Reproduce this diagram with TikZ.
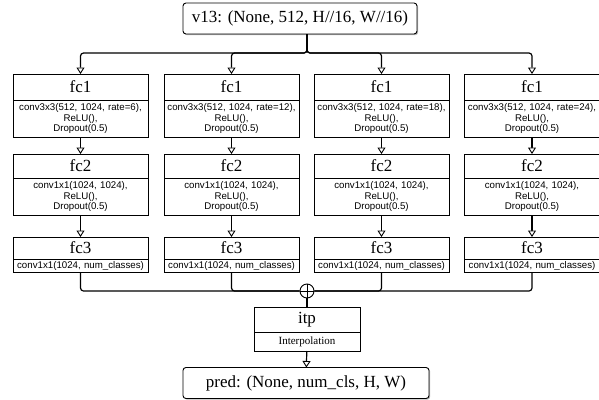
\documentclass[tikz,border=0pt]{standalone}
\usepackage{fontspec}
\setmainfont{Liberation Serif}
\setsansfont{Liberation Sans}
\usetikzlibrary{arrows.meta, positioning, shadows}

\tikzset{
  box/.style={draw, line width=0.9pt, fill=white, outer sep=0pt,
    drop shadow={shadow xshift=1.2pt, shadow yshift=-1.2pt, fill=black!35, opacity=0.8}},
  headbox/.style={box, rounded corners=3pt, minimum height=31pt, inner xsep=6pt,
    font=\fontsize{17}{20}\selectfont},
  ttl/.style={box, minimum width=135pt, minimum height=24pt, inner sep=0pt,
    font=\fontsize{17}{20}\selectfont},
  txt/.style={box, minimum width=135pt, text width=131pt, align=center, inner sep=2pt,
    font=\sffamily\fontsize{9.7}{10.5}\selectfont},
  conn/.style={line width=1.2pt, -{Triangle[open, fill=white, length=6.5pt, width=8pt, line width=0.9pt]}},
  wire/.style={line width=1.2pt, rounded corners=3pt},
}

\begin{document}
\begin{tikzpicture}[x=1pt, y=1pt]
  \useasboundingbox (0,0) rectangle (599,-399);

  % Eingang
  \node[headbox, minimum width=234pt] (v13) at (300,-18.5) {v13: (None, 512, H//16, W//16)};
  \node[draw, circle, line width=0.9pt, minimum size=14pt, inner sep=0pt, fill=white] (sum) at (307,-291) {};
  \draw[line width=0.9pt] (sum.north) -- (sum.south) (sum.west) -- (sum.east);
  \coordinate (split) at (307,-53);

  % Zweige
  \foreach \c/\x/\r in {1/80.5/6, 2/231.5/12, 3/381.5/18, 4/532/24} {
    \node[ttl, anchor=north, minimum height=26pt] (fc1t\c) at (\x,-74) {fc1};
    \node[txt, below=0pt of fc1t\c, minimum height=37pt] (fc1b\c) {conv3x3(512, 1024, rate=\r),\\ReLU(),\\Dropout(0.5)};
    \node[ttl, below=17pt of fc1b\c] (fc2t\c) {fc2};
    \node[txt, below=0pt of fc2t\c, minimum height=37pt] (fc2b\c) {conv1x1(1024, 1024),\\ReLU(),\\Dropout(0.5)};
    \node[ttl, below=22pt of fc2b\c, minimum height=22pt] (fc3t\c) {fc3};
    \node[txt, below=0pt of fc3t\c, minimum height=13pt] (fc3b\c) {conv1x1(1024, num\_classes)};
    \draw[conn, rounded corners=3pt] (v13.south -| split) -- (split) -| (fc1t\c);
    \draw[conn] (fc1b\c) -- (fc2t\c);
    \draw[conn] (fc2b\c) -- (fc3t\c);
    \draw[wire] (fc3b\c.south) |- (sum);
  }

  % Ausgang
  \node[ttl, anchor=north, minimum width=106pt, minimum height=25pt] (itpt) at (307,-307) {itp};
  \node[box, below=0pt of itpt, minimum width=106pt, minimum height=19pt, inner sep=0pt,
    font=\fontsize{11}{13}\selectfont] (itpb) {Interpolation};
  \node[headbox, minimum width=246pt] (pred) at (306,-383) {pred: (None, num\_cls, H, W)};
  \draw[line width=1.2pt] (sum) -- (itpt);
  \draw[conn] (itpb) -- (pred);
\end{tikzpicture}
\end{document}
